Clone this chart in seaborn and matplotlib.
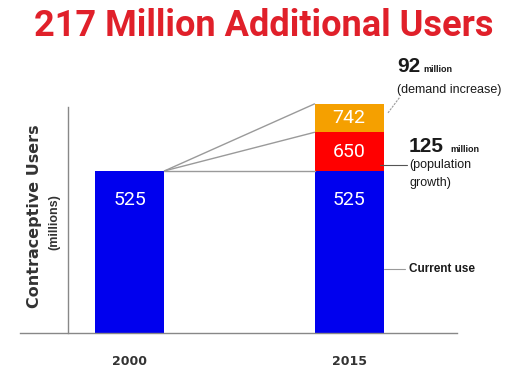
import matplotlib
matplotlib.use("Agg")
import matplotlib.pyplot as plt
import seaborn as sns
import pandas as pd

sns.set_style("white")
plt.rcParams["font.family"] = ["DejaVu Sans"]

# Data (millions of contraceptive users)
years = ["2000", "2015"]
current_use = [525, 525]
with_population_growth = [None, 650]
with_demand_increase = [None, 742]
bar_colors = {"current": "#0000ee", "growth": "#ff0000", "demand": "#f5a000"}

W, H = 516, 370
fig = plt.figure(figsize=(W / 100, H / 100), dpi=100)
ax = fig.add_axes([20 / W, 37 / H, 437 / W, 247 / H])

bar_w = 0.315
df = pd.DataFrame({"year": years, "current": current_use,
                   "growth": with_population_growth, "demand": with_demand_increase})

# Stacked bars drawn back to front as cumulative totals
for col in ["demand", "growth", "current"]:
    sub = df.dropna(subset=[col])
    sns.barplot(data=sub, x="year", y=col, order=years, color=bar_colors[col],
                width=bar_w, saturation=1, linewidth=0, ax=ax)

ax.set_xlim(-0.502, 1.493)
ax.set_ylim(0, 800)
ax.set_xlabel("")
ax.set_ylabel("")

# Value labels inside the bars
lbl = dict(color="white", fontsize=14, ha="center", va="center",
           family=["Roboto", "DejaVu Sans"])
for i, v in enumerate(current_use):
    ax.annotate(f"{v}", (i, v), xytext=(0, -21), textcoords="offset points", **lbl)
g, d = with_population_growth[1], with_demand_increase[1]
ax.text(1, (current_use[1] + g) / 2, f"{g}", **lbl)
ax.text(1, (g + d) / 2, f"{d}", **lbl)

# Connector lines from the 2000 bar to the 2015 segments
x0 = 0 + bar_w / 2
x1 = 1 - bar_w / 2
for top in [d, g, current_use[1]]:
    ax.plot([x0, x1], [current_use[0], top], color="#9a9a9a", lw=1.0, zorder=1)

# Side annotations
small = ["Liberation Sans", "DejaVu Sans"]
ink = "#1a1a1a"
ax.plot([1.178, 1.233], [713, 765], color="#9a9a9a", lw=0.8, ls=(0, (2, 1)))
ax.text(1.219, 844, "92", fontsize=15, family=small, va="baseline", color=ink,
        weight="semibold")
ax.text(1.340, 844, "million", fontsize=6.5, family=small, weight="bold",
        va="baseline", color=ink)
ax.text(1.219, 787, "(demand increase)", fontsize=9, family=small, va="center",
        color=ink)

ax.plot([1.142, 1.265], [544, 544], color="#555555", lw=0.8)
ax.text(1.274, 586, "125", fontsize=15, family=small, va="baseline", color=ink,
        weight="semibold")
ax.text(1.462, 586, "million", fontsize=6.5, family=small, weight="bold",
        va="baseline", color=ink)
ax.text(1.274, 544, "(population", fontsize=9, family=small, va="center", color=ink)
ax.text(1.274, 486, "growth)", fontsize=9, family=small, va="center", color=ink)

ax.plot([1.16, 1.255], [207, 207], color="#9a9a9a", lw=0.8)
ax.text(1.274, 207, "Current use", fontsize=8.5, family=small, weight="bold",
        va="center", color=ink)

# Axes styling
for s in ["top", "right"]:
    ax.spines[s].set_visible(False)
ax.spines["left"].set_position(("data", -0.283))
ax.spines["left"].set_bounds(0, 732)
for s in ["left", "bottom"]:
    ax.spines[s].set_color("#888888")
    ax.spines[s].set_linewidth(1.0)
ax.set_yticks([732])
ax.set_yticklabels([])
ax.tick_params(axis="y", direction="in", length=16, color="#888888", width=1.0)
ax.set_xticks([0, 1])
ax.set_xticklabels(years, fontsize=9, weight="bold", color="#333333")
ax.set_xticks([0.5, 1.493], minor=True)
ax.tick_params(axis="x", which="major", length=0, pad=16)
ax.tick_params(axis="x", which="minor", length=4, direction="out", color="#888888")

fig.text(35 / W, 1 - 216 / H, "Contraceptive Users", rotation=90, fontsize=11.5,
         weight="bold", ha="center", va="center", color="#333333")
fig.text(54 / W, 1 - 222 / H, "(millions)", rotation=90, fontsize=9,
         weight="bold", ha="center", va="center", color="#333333",
         family=["Liberation Sans", "DejaVu Sans"])

fig.text(263.5 / W, 1 - 26 / H, "217 Million Additional Users", fontsize=26,
         weight="bold", color="#e0202a", ha="center", va="center",
         family=["Roboto", "DejaVu Sans"])

fig.savefig("out.png", dpi=100)
